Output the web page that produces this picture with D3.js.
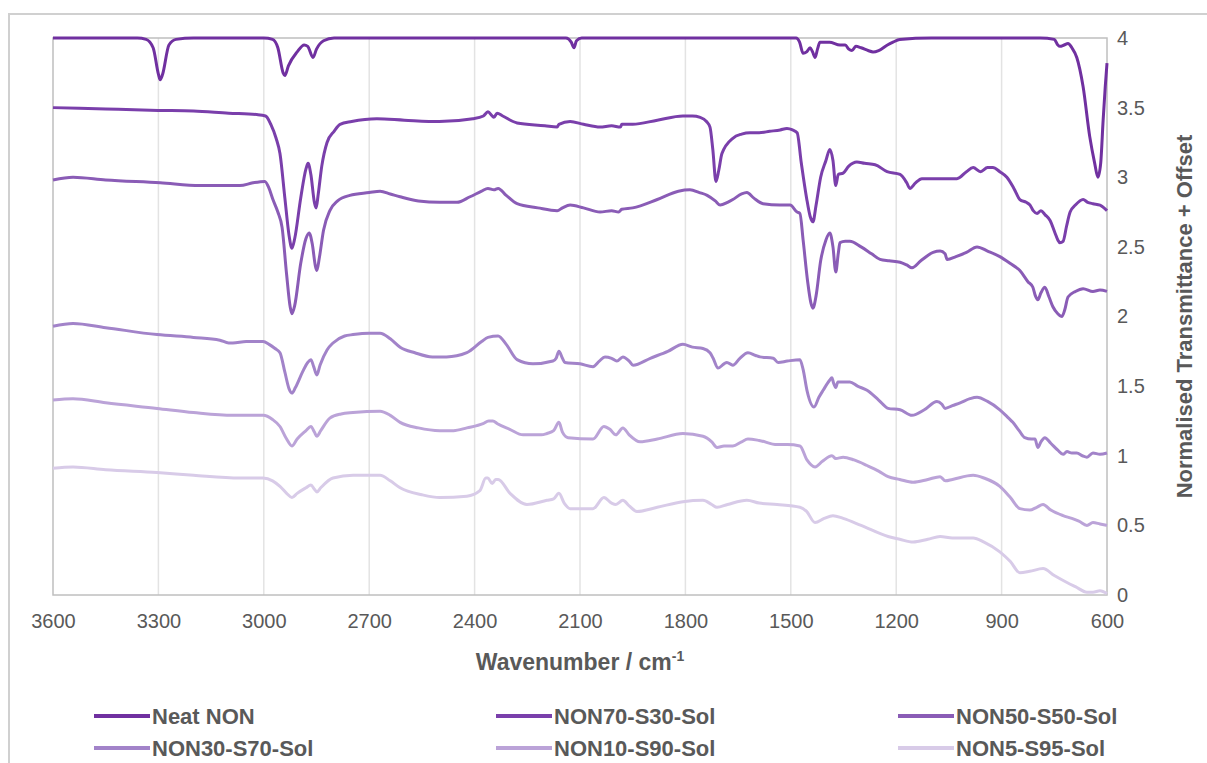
<!DOCTYPE html>
<html>
<head>
<meta charset="utf-8">
<script src="https://cdn.jsdelivr.net/npm/d3@7"></script>
<style>
  body { margin: 0; background: #fff; }
  text { font-family: Arial, 'Liberation Sans', sans-serif; }
</style>
</head>
<body>
<div id="chart"></div>
<script>
'use strict';

/* Data: [wavenumber, normalised transmittance + offset] */

var seriesNames = ['Neat NON', 'NON70-S30-Sol', 'NON50-S50-Sol',
                   'NON30-S70-Sol', 'NON10-S90-Sol', 'NON5-S95-Sol'];

var seriesColors = ['#7030a0', '#7a3fab', '#8a5cb6', '#a283c9', '#bba3d8', '#d8cbe8'];

var xTicks = [3600, 3300, 3000, 2700, 2400, 2100, 1800, 1500, 1200, 900, 600];
var yTicks = [0, 0.5, 1, 1.5, 2, 2.5, 3, 3.5, 4];

var neatNON = [[3600,4.0],[3360,4.0],[3335,3.99],[3315,3.93],[3300,3.74],[3295,3.70],[3288,3.74],[3270,3.95],
  [3250,3.99],[3200,4.0],[3000,4.0],[2975,3.99],[2960,3.93],[2945,3.75],[2940,3.73],[2930,3.80],[2905,3.90],
  [2885,3.95],[2875,3.94],[2860,3.86],[2850,3.92],[2830,3.98],[2800,4.0],[2140,4.0],[2125,3.97],[2117,3.93],
  [2110,3.98],[2095,4.0],[1485,4.0],[1475,3.97],[1465,3.89],[1455,3.90],[1445,3.93],[1438,3.90],[1431,3.86],
  [1424,3.92],[1417,3.97],[1390,3.97],[1360,3.95],[1345,3.95],[1335,3.92],[1326,3.91],[1315,3.94],[1300,3.93],
  [1280,3.91],[1266,3.90],[1250,3.91],[1225,3.95],[1209,3.97],[1190,3.99],[1100,4.0],[1000,4.0],[790,4.0],
  [750,3.99],[740,3.95],[734,3.94],[722,3.95],[711,3.96],[700,3.93],[686,3.86],[668,3.65],[649,3.29],
  [635,3.1],[626,3.0],[618,3.1],[611,3.41],[605,3.65],[600,3.82]];

var non70 = [[3600,3.50],[3450,3.49],[3300,3.48],[3200,3.475],[3100,3.46],[3020,3.45],[2995,3.44],[2980,3.38],
  [2965,3.28],[2954,3.17],[2940,2.85],[2928,2.58],[2920,2.49],[2912,2.56],[2895,2.85],[2880,3.06],[2874,3.10],
  [2866,3.02],[2856,2.82],[2851,2.78],[2845,2.88],[2835,3.08],[2820,3.25],[2800,3.33],[2783,3.38],[2750,3.40],
  [2678,3.42],[2600,3.41],[2500,3.40],[2405,3.42],[2375,3.44],[2362,3.47],[2350,3.44],[2345,3.43],[2336,3.46],
  [2320,3.44],[2279,3.39],[2200,3.37],[2165,3.36],[2160,3.38],[2128,3.40],[2090,3.38],[2043,3.36],[2010,3.37],
  [1985,3.36],[1981,3.38],[1950,3.38],[1880,3.41],[1807,3.44],[1780,3.44],[1758,3.43],[1740,3.40],[1730,3.36],
  [1722,3.20],[1713,2.97],[1705,3.05],[1696,3.17],[1665,3.28],[1640,3.31],[1616,3.32],[1590,3.32],[1560,3.33],
  [1530,3.34],[1511,3.35],[1495,3.34],[1482,3.32],[1470,3.10],[1455,2.85],[1445,2.72],[1437,2.68],[1428,2.80],
  [1415,3.00],[1400,3.12],[1389,3.20],[1380,3.12],[1372,2.94],[1365,3.02],[1351,3.03],[1335,3.08],[1312,3.11],
  [1290,3.10],[1260,3.09],[1226,3.04],[1189,3.02],[1170,2.96],[1161,2.92],[1145,2.96],[1127,2.99],[1080,2.99],
  [1027,2.99],[1000,3.04],[981,3.07],[960,3.04],[940,3.07],[925,3.07],[905,3.04],[885,3.00],[865,2.92],
  [848,2.84],[830,2.82],[819,2.80],[810,2.76],[799,2.74],[788,2.76],[776,2.73],[762,2.69],[748,2.60],
  [740,2.55],[734,2.53],[725,2.54],[715,2.65],[705,2.75],[690,2.80],[668,2.84],[655,2.82],[640,2.81],
  [620,2.80],[600,2.76]];

var non50 = [[3600,2.98],[3543,3.00],[3450,2.98],[3295,2.96],[3182,2.94],[3068,2.94],[3031,2.96],[2997,2.97],
  [2985,2.92],[2974,2.84],[2960,2.75],[2948,2.64],[2935,2.30],[2925,2.07],[2920,2.02],[2912,2.08],[2895,2.38],
  [2880,2.56],[2871,2.60],[2862,2.52],[2853,2.36],[2849,2.33],[2842,2.42],[2830,2.62],[2812,2.76],[2790,2.83],
  [2755,2.87],[2700,2.89],[2669,2.90],[2640,2.88],[2612,2.86],[2560,2.83],[2499,2.82],[2450,2.82],[2413,2.86],
  [2380,2.90],[2362,2.92],[2345,2.91],[2333,2.92],[2310,2.87],[2279,2.81],[2220,2.78],[2165,2.76],[2150,2.78],
  [2128,2.80],[2090,2.78],[2043,2.75],[2010,2.76],[1990,2.75],[1981,2.77],[1950,2.78],[1880,2.84],[1820,2.90],
  [1787,2.91],[1760,2.89],[1738,2.87],[1715,2.83],[1701,2.80],[1680,2.82],[1665,2.84],[1640,2.88],[1625,2.89],
  [1605,2.85],[1579,2.81],[1531,2.80],[1502,2.80],[1482,2.75],[1474,2.74],[1465,2.55],[1452,2.25],[1443,2.10],
  [1437,2.06],[1428,2.15],[1415,2.40],[1400,2.55],[1389,2.60],[1380,2.50],[1372,2.32],[1365,2.45],[1360,2.53],
  [1345,2.54],[1332,2.54],[1300,2.50],[1270,2.45],[1246,2.41],[1220,2.40],[1189,2.39],[1170,2.37],[1155,2.35],
  [1130,2.40],[1095,2.46],[1075,2.47],[1061,2.45],[1055,2.41],[1030,2.43],[1000,2.46],[970,2.50],[940,2.47],
  [905,2.43],[875,2.38],[848,2.33],[825,2.25],[811,2.21],[804,2.15],[797,2.12],[788,2.17],[777,2.21],
  [765,2.14],[754,2.07],[740,2.02],[728,2.00],[720,2.05],[711,2.14],[690,2.18],[668,2.20],[640,2.18],
  [620,2.19],[600,2.18]];

var non30 = [[3600,1.93],[3543,1.95],[3450,1.92],[3304,1.87],[3200,1.85],[3125,1.83],[3100,1.81],[3088,1.81],
  [3050,1.82],[3002,1.82],[2985,1.80],[2968,1.77],[2954,1.74],[2940,1.60],[2928,1.48],[2920,1.45],[2910,1.49],
  [2890,1.60],[2875,1.67],[2866,1.69],[2858,1.64],[2849,1.58],[2840,1.65],[2820,1.76],[2803,1.81],[2770,1.86],
  [2746,1.87],[2700,1.88],[2669,1.88],[2640,1.84],[2612,1.78],[2570,1.74],[2520,1.71],[2480,1.71],[2422,1.74],
  [2380,1.82],[2362,1.85],[2333,1.86],[2310,1.80],[2279,1.69],[2234,1.66],[2177,1.68],[2168,1.70],[2160,1.75],
  [2150,1.70],[2143,1.67],[2100,1.66],[2063,1.64],[2045,1.68],[2029,1.71],[2010,1.70],[1995,1.68],[1978,1.71],
  [1960,1.68],[1949,1.65],[1900,1.70],[1850,1.75],[1807,1.80],[1780,1.78],[1750,1.77],[1730,1.74],[1721,1.70],
  [1707,1.63],[1690,1.66],[1682,1.67],[1665,1.65],[1645,1.70],[1622,1.74],[1600,1.72],[1588,1.71],[1550,1.70],
  [1536,1.67],[1510,1.68],[1474,1.69],[1465,1.62],[1454,1.47],[1434,1.35],[1420,1.42],[1408,1.47],[1390,1.54],
  [1383,1.56],[1378,1.52],[1372,1.49],[1366,1.53],[1360,1.53],[1332,1.53],[1310,1.50],[1283,1.47],[1250,1.40],
  [1223,1.34],[1189,1.33],[1155,1.29],[1120,1.33],[1084,1.39],[1070,1.37],[1061,1.34],[1040,1.36],[1018,1.38],
  [990,1.41],[970,1.42],[940,1.39],[905,1.33],[880,1.27],[868,1.24],[850,1.18],[834,1.13],[815,1.12],
  [805,1.12],[797,1.06],[788,1.10],[777,1.13],[760,1.09],[740,1.04],[725,1.01],[714,1.03],[700,1.02],
  [686,1.02],[670,1.00],[657,0.99],[640,1.02],[620,1.01],[600,1.02]];

var non10 = [[3600,1.40],[3543,1.41],[3450,1.38],[3304,1.34],[3200,1.31],[3088,1.29],[3002,1.29],[2975,1.26],
  [2954,1.21],[2935,1.12],[2920,1.07],[2905,1.12],[2880,1.18],[2866,1.21],[2856,1.17],[2849,1.14],[2838,1.18],
  [2812,1.27],[2780,1.30],[2746,1.31],[2669,1.32],[2640,1.29],[2612,1.24],[2560,1.20],[2499,1.18],[2460,1.18],
  [2422,1.20],[2376,1.23],[2360,1.25],[2348,1.25],[2335,1.23],[2300,1.19],[2262,1.15],[2210,1.15],[2194,1.16],
  [2175,1.18],[2160,1.24],[2150,1.17],[2134,1.13],[2063,1.12],[2032,1.21],[2015,1.19],[1998,1.15],[1978,1.20],
  [1960,1.15],[1929,1.10],[1880,1.12],[1807,1.16],[1750,1.14],[1725,1.10],[1710,1.06],[1690,1.07],[1665,1.07],
  [1640,1.10],[1622,1.12],[1590,1.11],[1539,1.08],[1510,1.08],[1474,1.07],[1454,0.97],[1431,0.92],[1410,0.96],
  [1383,1.00],[1372,0.98],[1351,0.99],[1320,0.97],[1283,0.93],[1250,0.89],[1223,0.85],[1190,0.83],[1152,0.81],
  [1110,0.83],[1075,0.85],[1060,0.82],[1040,0.83],[981,0.86],[950,0.84],[905,0.78],[875,0.70],[848,0.62],
  [820,0.61],[800,0.63],[782,0.65],[760,0.61],[725,0.57],[700,0.55],[680,0.53],[657,0.50],[640,0.52],
  [620,0.51],[600,0.50]];

var non5 = [[3600,0.91],[3543,0.92],[3450,0.90],[3304,0.88],[3200,0.86],[3068,0.84],[3002,0.84],[2975,0.82],
  [2954,0.78],[2935,0.73],[2920,0.70],[2905,0.73],[2880,0.77],[2866,0.79],[2856,0.76],[2849,0.74],[2838,0.77],
  [2803,0.84],[2746,0.86],[2669,0.86],[2640,0.82],[2612,0.77],[2550,0.72],[2499,0.70],[2422,0.71],[2385,0.75],
  [2368,0.84],[2362,0.84],[2350,0.80],[2340,0.83],[2333,0.83],[2299,0.73],[2251,0.65],[2194,0.68],[2175,0.69],
  [2160,0.73],[2145,0.66],[2128,0.62],[2063,0.62],[2032,0.70],[2010,0.66],[1998,0.65],[1978,0.68],[1960,0.64],
  [1938,0.60],[1880,0.63],[1807,0.67],[1750,0.68],[1725,0.65],[1710,0.63],[1680,0.65],[1625,0.68],[1590,0.66],
  [1539,0.65],[1474,0.63],[1455,0.60],[1431,0.52],[1405,0.55],[1380,0.57],[1351,0.55],[1300,0.50],[1223,0.42],
  [1190,0.40],[1152,0.38],[1110,0.40],[1075,0.42],[1040,0.41],[981,0.41],[950,0.38],[905,0.31],[875,0.24],
  [848,0.16],[820,0.17],[782,0.19],[750,0.14],[714,0.09],[690,0.06],[657,0.02],[640,0.02],[620,0.03],
  [600,0.01]];

var seriesData = [neatNON, non70, non50, non30, non10, non5];

/* Layout */

var w = 1207, h = 763;
var plot = { left: 53, right: 1107, top: 38, bottom: 595 };
var textColor = '#595959';

var svg = d3.select('#chart').append('svg')
  .attr('width', w)
  .attr('height', h);

/* Outer frame */

svg.append('path')
  .attr('d', 'M9,' + h + ' V14 H' + w)
  .style('fill', 'none')
  .style('stroke', '#d0d0d0')
  .style('stroke-width', 2);

var x = d3.scaleLinear().domain([3600, 600]).range([plot.left, plot.right]);
var y = d3.scaleLinear().domain([0, 4]).range([plot.bottom, plot.top]);

/* Vertical gridlines */

svg.append('g')
  .selectAll('line')
  .data(xTicks.slice(1, -1))
  .enter()
  .append('line')
  .attr('x1', function (d) { return x(d); })
  .attr('x2', function (d) { return x(d); })
  .attr('y1', plot.top)
  .attr('y2', plot.bottom)
  .style('stroke', '#e3e3e3')
  .style('stroke-width', 1.5);

/* Plot border */

svg.append('rect')
  .attr('x', plot.left)
  .attr('y', plot.top)
  .attr('width', plot.right - plot.left)
  .attr('height', plot.bottom - plot.top)
  .style('fill', 'none')
  .style('stroke', '#bfbfbf')
  .style('stroke-width', 1.5);

/* X axis */

var xAxis = svg.append('g')
  .attr('transform', 'translate(0,' + (plot.bottom + 16) + ')')
  .call(d3.axisBottom(x).tickValues(xTicks).tickSize(0).tickFormat(d3.format('d')));
xAxis.select('.domain').remove();
xAxis.selectAll('text')
  .attr('fill', textColor)
  .style('font-size', '20px');

/* Y axis (right side) */

var yAxis = svg.append('g')
  .attr('transform', 'translate(' + (plot.right + 10) + ',0)')
  .call(d3.axisRight(y).tickValues(yTicks).tickSize(0).tickFormat(function (d) { return String(d); }));
yAxis.select('.domain').remove();
yAxis.selectAll('text')
  .attr('fill', textColor)
  .attr('x', 0)
  .style('font-size', '20px');

/* Axis titles */

var xTitle = svg.append('text')
  .attr('x', 580)
  .attr('y', 670)
  .attr('text-anchor', 'middle')
  .attr('fill', textColor)
  .style('font-size', '23px')
  .style('font-weight', 'bold');
xTitle.append('tspan').text('Wavenumber / cm');
xTitle.append('tspan')
  .attr('dy', -9)
  .style('font-size', '14px')
  .text('-1');

svg.append('text')
  .attr('transform', 'translate(1192,' + ((plot.top + plot.bottom) / 2) + ') rotate(-90)')
  .attr('text-anchor', 'middle')
  .attr('fill', textColor)
  .style('font-size', '22px')
  .style('font-weight', 'bold')
  .text('Normalised Transmittance + Offset');

/* Spectra */

var line = d3.line()
  .x(function (d) { return x(d[0]); })
  .y(function (d) { return y(d[1]); })
  .curve(d3.curveMonotoneX);

svg.append('g')
  .selectAll('path')
  .data(seriesData.slice().reverse())
  .enter()
  .append('path')
  .attr('d', line)
  .style('fill', 'none')
  .style('stroke', function (d, i) { return seriesColors[seriesData.length - 1 - i]; })
  .style('stroke-width', 3)
  .style('stroke-linejoin', 'round');

/* Legend */

var legendCols = [94, 496, 898];
var legendRows = [716, 748];

var legend = svg.append('g')
  .selectAll('g')
  .data(seriesNames)
  .enter()
  .append('g')
  .attr('transform', function (d, i) {
    return 'translate(' + legendCols[i % 3] + ',' + legendRows[Math.floor(i / 3)] + ')';
  });

legend.append('line')
  .attr('x1', 0)
  .attr('x2', 56)
  .style('stroke', function (d, i) { return seriesColors[i]; })
  .style('stroke-width', 4);

legend.append('text')
  .attr('x', 58)
  .attr('dy', '0.36em')
  .attr('fill', textColor)
  .style('font-size', '22px')
  .style('font-weight', 'bold')
  .text(function (d) { return d; });
</script>
</body>
</html>
